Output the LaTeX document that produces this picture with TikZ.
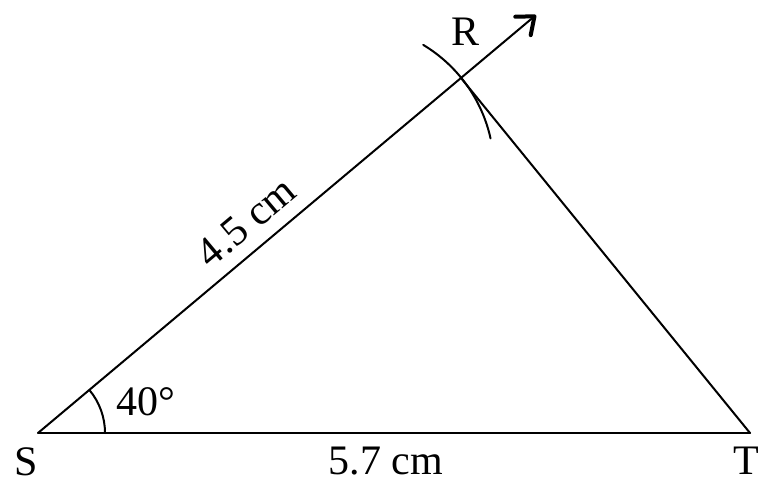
\documentclass[tikz,border=0pt]{standalone}
\usepackage{fontspec}
\setmainfont{Liberation Serif}
\usetikzlibrary{arrows.meta,calc}
\begin{document}
\begin{tikzpicture}[x=1pt,y=-1pt,
  edge/.style={line width=2pt,line cap=round},
  lbl/.style={font=\fontsize{42}{44}\selectfont,inner sep=0pt}]
\useasboundingbox (0,0) rectangle (768,487);
\coordinate (S) at (38,433);
\coordinate (T) at (750,433);
\coordinate (R) at (461,78);
\coordinate (A) at (536,15);
\coordinate (C) at (348,170);
% sides
\draw[edge] (S) -- (T);
\draw[edge] (T) -- (R);
\draw[edge,-{Straight Barb[length=15pt,width=24pt,line width=4pt,round]}] (S) -- (A);
% construction arc
\draw[edge] ($(C)+(-59:146)$) arc[start angle=-59,end angle=-12.5,radius=146];
% angle mark
\draw[edge] ($(S)+(67,0)$) arc[start angle=0,end angle=-40,radius=67];
% labels
\node[lbl] (lS) at (26,462) {S};
\node[lbl] (lT) at (746,461) {T};
\node[lbl] (lR) at (466,32) {R};
\node[lbl] (lang) at (146,402) {40°};
\node[lbl] (lST) at (386,461) {5.7 cm};
\node[lbl,rotate=40] (lSR) at (246,222) {4.5 cm};
\end{tikzpicture}
\end{document}
